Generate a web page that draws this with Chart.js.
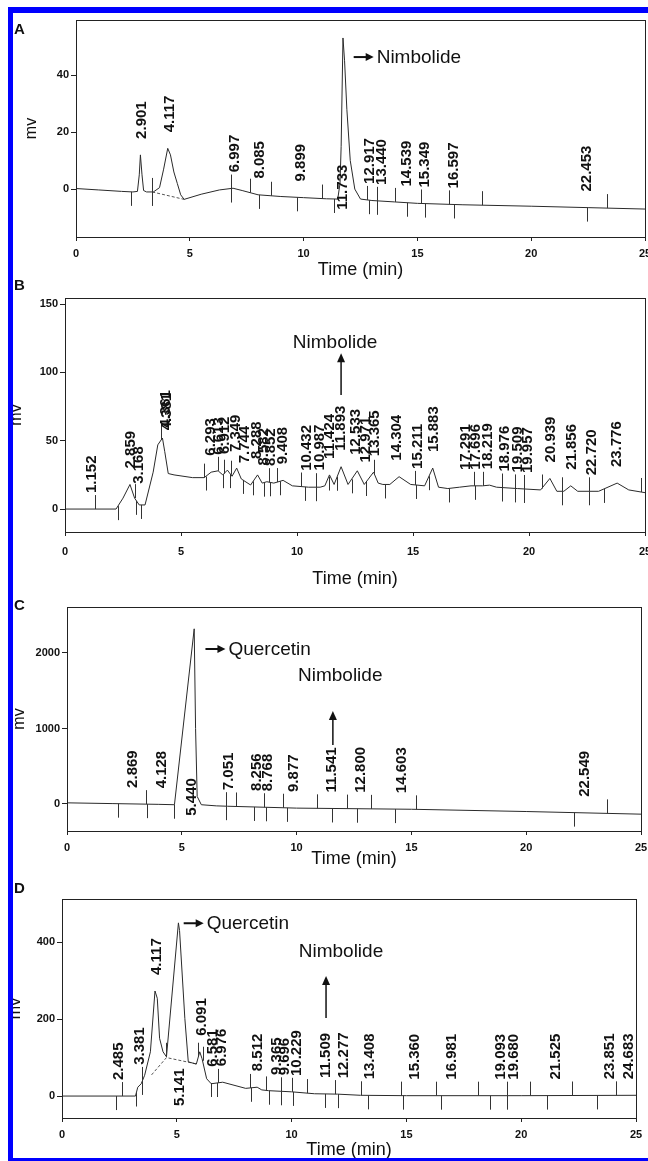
<!DOCTYPE html>
<html>
<head>
<meta charset="utf-8">
<script src="https://cdn.jsdelivr.net/npm/chart.js@4"></script>
<style>
  body { margin: 0; width: 648px; height: 1161px; position: relative; overflow: hidden; background: #fff; font-family: "Liberation Sans", Arial, sans-serif; }
  canvas { position: absolute; left: 0; }
  .bar { position: absolute; background: #0000ff; z-index: 5; }
  .letter { position: absolute; left: 14px; font-weight: bold; font-size: 15px; color: #111; z-index: 4; }
</style>
</head>
<body>
<div class="bar" style="left:8px;top:7px;width:640px;height:6px"></div>
<div class="bar" style="left:8px;top:7px;width:5px;height:1154px"></div>
<div class="bar" style="left:8px;top:1158px;width:640px;height:3px"></div>
<div class="letter" style="top:20px">A</div>
<div class="letter" style="top:276px">B</div>
<div class="letter" style="top:596px">C</div>
<div class="letter" style="top:879px">D</div>
<canvas id="chartA" width="648" height="276" style="top:14px"></canvas>
<canvas id="chartB" width="648" height="300" style="top:290px"></canvas>
<canvas id="chartC" width="648" height="280" style="top:590px"></canvas>
<canvas id="chartD" width="648" height="291" style="top:870px"></canvas>
<script>
const FONT = '"Liberation Sans", Arial, sans-serif';
const xTicks = [0, 5, 10, 15, 20, 25];

// painel A - extrato
const timeA = [0, 1, 2, 2.5, 2.7, 2.78, 2.83, 2.9, 2.97, 3.1, 3.4, 3.67, 3.85, 4.03, 4.15, 4.3, 4.45, 4.6, 4.75, 5.5, 6.3, 6.9, 7.3, 8, 9, 10, 11, 11.5, 11.6, 11.65, 11.73, 11.8, 11.9, 12.05, 12.25, 12.5, 13, 14, 15, 17, 20, 22.5, 25];
const mvA = [0.2, -0.3, -0.8, -1, -0.8, 5, 12, 5, -0.5, -1, -1, 0.5, 7, 14.3, 12, 6, 2, -2, -3.6, -1.8, -0.3, 0.3, -0.5, -2, -2.6, -3, -3.4, -3.5, 2, 15, 53, 45, 28, 10, 0, -3.5, -4, -4.5, -5, -5.5, -6, -6.5, -7];
const baseTimeA = [3.35, 4.75];
const baseMvA = [-1, -3.6];
const peaksA = ['2.901', '4.117', '6.997', '8.085', '9.899', '11.733', '12.917', '13.440', '14.539', '15.349', '16.597', '22.453'];
const belowA = ['11.733'];
const upA = [3.34, 6.79, 7.66, 8.57, 10.8, 12.8, 13.24, 14.0, 15.14, 16.41, 17.86, 23.33];
const downA = [2.43, 3.34, 6.79, 8.06, 9.71, 11.35, 12.89, 13.24, 14.56, 15.34, 16.59, 22.46];
const ticksA = [0, 20, 40];

// painel B
const timeB = [0, 2.2, 2.5, 2.8, 3.0, 3.2, 3.45, 3.8, 4.0, 4.2, 4.3, 4.45, 4.7, 5.5, 6.0, 6.3, 6.6, 6.8, 7.0, 7.2, 7.4, 7.6, 8.0, 8.3, 8.5, 8.7, 9.0, 9.4, 9.8, 10.5, 11.0, 11.2, 11.4, 11.6, 11.9, 12.2, 12.6, 12.9, 13.3, 13.5, 13.7, 14.0, 14.4, 14.9, 15.5, 15.85, 16.1, 16.5, 17.0, 17.5, 18.0, 18.3, 18.6, 19.5, 20.0, 20.5, 20.9, 21.2, 21.5, 21.8, 22.1, 23.0, 23.8, 24.3, 25];
const mvB = [0, 0, 8, 18, 8, 3, 3, 27, 47, 52, 42, 26, 25, 23, 23, 27, 28, 25, 28.5, 24, 30, 22, 17.6, 25, 19, 20, 19, 21, 17, 16, 16, 17, 25, 18, 31, 18, 28, 18, 27, 19, 18, 18, 23.7, 18, 17, 30, 16, 15, 16, 17, 17, 17.5, 16, 15, 14.5, 14, 22.4, 13, 13, 17, 13, 13, 19, 14, 12];
const peaksB = ['1.152', '2.859', '3.168', '4.361', '4.381', '6.293', '6.613', '6.912', '7.349', '7.744', '8.288', '8.582', '8.852', '9.408', '10.432', '10.987', '11.424', '11.893', '12.533', '12.971', '13.365', '14.304', '15.211', '15.883', '17.291', '17.696', '18.219', '18.976', '19.509', '19.957', '20.939', '21.856', '22.720', '23.776'];
const upB = [1.3, 3.0, 4.15, 6.0, 6.6, 6.85, 7.15, 8.8, 9.15, 10.16, 10.8, 13.33, 15.1, 17.63, 18.0, 18.82, 19.4, 19.8, 20.55, 21.44, 22.6, 24.83];
const downB = [2.28, 3.08, 3.26, 6.06, 6.83, 7.13, 7.66, 8.11, 8.56, 8.82, 9.27, 10.34, 10.84, 11.37, 11.73, 12.35, 12.98, 13.81, 15.12, 15.69, 16.54, 17.66, 18.82, 19.4, 19.8, 21.44, 22.6, 23.23];
const ticksB = [0, 50, 100, 150];

// painel C
const timeC = [0, 2, 4, 4.68, 5.54, 5.6, 5.67, 5.85, 6.5, 7, 10, 15, 20, 25];
const mvC = [15, 5, -5, -10, 2320, 1000, 100, -10, -25, -30, -55, -70, -100, -135];
const peaksC = ['2.869', '4.128', '5.440', '7.051', '8.256', '8.768', '9.877', '11.541', '12.800', '14.603', '22.549'];
const belowC = ['5.440'];
const upC = [3.45, 6.92, 7.37, 8.6, 9.4, 10.9, 12.2, 13.25, 15.2, 23.5];
const downC = [2.2, 3.47, 4.68, 6.92, 8.13, 8.67, 9.59, 11.56, 12.64, 14.3, 22.1];
const ticksC = [0, 1000, 2000];

// painel D
const timeD = [0, 3.2, 3.3, 3.45, 3.6, 3.85, 4.05, 4.15, 4.25, 4.4, 4.55, 5.07, 5.12, 5.35, 5.5, 5.85, 6.0, 6.1, 6.3, 6.5, 7.0, 8.0, 8.5, 8.7, 9.0, 10, 11, 12, 13, 15, 20, 25];
const mvD = [0, 0, 23, 32, 54, 115, 273, 254, 150, 115, 102, 450, 430, 202, 89, 83, 115, 97, 45, 32, 36, 20, 23, 16, 14, 11, 6, 5, 2, 1, 1, 2];
const baseTimeD = [3.9, 4.55, 5.9];
const baseMvD = [55, 100, 83];
const peaksD = ['2.485', '3.381', '4.117', '5.141', '6.091', '6.581', '6.976', '8.512', '9.365', '9.696', '10.229', '11.509', '12.277', '13.408', '15.360', '16.981', '19.093', '19.680', '21.525', '23.851', '24.683'];
const belowD = ['5.141'];
const upD = [2.6, 3.5, 4.55, 5.94, 6.12, 6.78, 8.18, 8.9, 9.53, 10.0, 10.65, 11.87, 13.04, 14.78, 16.31, 18.13, 19.37, 20.38, 22.21, 24.15];
const downD = [2.34, 3.24, 3.5, 6.47, 6.74, 8.24, 9.03, 9.53, 10.04, 11.47, 12.01, 13.31, 14.84, 16.49, 18.62, 19.37, 21.13, 23.29];
const ticksD = [0, 200, 400];

// valor do traço num tempo qualquer (interpolação só para posicionar rótulos)
function valorEm(ts, vs, t) {
  if (t <= ts[0]) return vs[0];
  for (let i = 1; i < ts.length; i++) {
    if (t <= ts[i]) {
      const f = (t - ts[i - 1]) / (ts[i] - ts[i - 1]);
      return vs[i - 1] + f * (vs[i] - vs[i - 1]);
    }
  }
  return vs[vs.length - 1];
}
function maxEntre(ts, vs, a, b) {
  let m = Math.max(valorEm(ts, vs, a), valorEm(ts, vs, b));
  ts.forEach((t, i) => { if (t >= a && t <= b) m = Math.max(m, vs[i]); });
  return m;
}
function minEntre(ts, vs, a, b) {
  let m = Math.min(valorEm(ts, vs, a), valorEm(ts, vs, b));
  ts.forEach((t, i) => { if (t >= a && t <= b) m = Math.min(m, vs[i]); });
  return m;
}

function setaDireita(ctx, x, y, texto) {
  ctx.beginPath(); ctx.moveTo(x, y); ctx.lineTo(x + 13, y); ctx.lineWidth = 2; ctx.stroke();
  ctx.beginPath(); ctx.moveTo(x + 20, y); ctx.lineTo(x + 12, y - 4); ctx.lineTo(x + 12, y + 4); ctx.closePath(); ctx.fill();
  ctx.font = '19px ' + FONT; ctx.textAlign = 'left'; ctx.textBaseline = 'middle';
  ctx.fillText(texto, x + 23, y + 1);
}
function setaCima(ctx, x, y0, y1) {
  ctx.beginPath(); ctx.moveTo(x, y0); ctx.lineTo(x, y1 + 8); ctx.lineWidth = 1.5; ctx.stroke();
  ctx.beginPath(); ctx.moveTo(x, y1); ctx.lineTo(x - 4, y1 + 9); ctx.lineTo(x + 4, y1 + 9); ctx.closePath(); ctx.fill();
}

function pluginPicos(p) {
  return {
    id: 'picos' + p.nome,
    afterDatasetsDraw(chart) {
      const { ctx, chartArea: a, scales: { x, y } } = chart;
      ctx.save();
      ctx.strokeStyle = '#222'; ctx.fillStyle = '#111'; ctx.lineWidth = 1;
      // moldura
      ctx.strokeRect(a.left + 0.5, a.top + 0.5, a.right - a.left, a.bottom - a.top);
      // marcas de integração
      ctx.strokeStyle = '#333';
      p.up.forEach(t => {
        const px = Math.round(x.getPixelForValue(t)) + 0.5;
        const py = y.getPixelForValue(valorEm(p.time, p.mv, t));
        ctx.beginPath(); ctx.moveTo(px, py); ctx.lineTo(px, py - 14); ctx.stroke();
      });
      p.down.forEach(t => {
        const px = Math.round(x.getPixelForValue(t)) + 0.5;
        const py = y.getPixelForValue(valorEm(p.time, p.mv, t));
        ctx.beginPath(); ctx.moveTo(px, py); ctx.lineTo(px, py + 14); ctx.stroke();
      });
      // rótulos dos picos
      ctx.font = 'bold 15px ' + FONT;
      ctx.textAlign = 'left'; ctx.textBaseline = 'middle';
      p.picos.forEach(lbl => {
        const t = parseFloat(lbl);
        const px = x.getPixelForValue(t);
        let py;
        if (p.abaixo.includes(lbl)) {
          py = y.getPixelForValue(Math.min(0, minEntre(p.time, p.mv, t - 1, t + 1))) + 10;
        } else {
          py = y.getPixelForValue(maxEntre(p.time, p.mv, t - 0.12, t + 0.12)) - 16;
        }
        ctx.save(); ctx.translate(px, py); ctx.rotate(-Math.PI / 2);
        ctx.fillText(lbl, 0, 0);
        ctx.restore();
      });
      // compostos
      ctx.strokeStyle = '#111';
      p.notas.forEach(n => {
        if (n.tipo === 'direita') {
          setaDireita(ctx, x.getPixelForValue(n.t), y.getPixelForValue(n.v), n.texto);
        } else {
          setaCima(ctx, x.getPixelForValue(n.t), y.getPixelForValue(n.v0), y.getPixelForValue(n.v1));
          ctx.font = '19px ' + FONT; ctx.textAlign = 'center'; ctx.textBaseline = 'middle';
          ctx.fillText(n.texto, x.getPixelForValue(n.tt), y.getPixelForValue(n.tv));
        }
      });
      ctx.restore();
    }
  };
}

function criaGrafico(id, p) {
  const datasets = [{
    data: p.time.map((t, i) => ({ x: t, y: p.mv[i] })),
    borderColor: '#2a2a2a', borderWidth: 1, pointRadius: 0, tension: 0
  }];
  if (p.baseTime) {
    datasets.push({
      data: p.baseTime.map((t, i) => ({ x: t, y: p.baseMv[i] })),
      borderColor: '#555', borderWidth: 1, borderDash: [3, 2], pointRadius: 0, tension: 0
    });
  }
  const eixo = { color: '#222', width: 1 };
  return new Chart(document.getElementById(id), {
    type: 'line',
    data: { datasets },
    options: {
      responsive: false,
      animation: false,
      layout: { padding: { left: p.padLeft, top: p.padTop, right: p.padRight, bottom: 0 } },
      plugins: { legend: { display: false }, tooltip: { enabled: false } },
      scales: {
        x: {
          type: 'linear', min: 0, max: 25,
          afterBuildTicks: s => { s.ticks = xTicks.map(v => ({ value: v })); },
          // o "25" fica cortado na borda, como no original
          afterFit: s => { s.height = p.xHeight; s.paddingLeft = 0; s.paddingRight = 0; },
          grid: { drawOnChartArea: false, tickLength: 4, color: '#222' },
          border: eixo,
          ticks: { font: { size: 11, weight: 'bold', family: FONT }, color: '#111', padding: p.xTickPad, maxRotation: 0, autoSkip: false, callback: v => String(v) },
          title: { display: true, text: 'Time (min)', font: { size: 18, family: FONT }, color: '#111', padding: { top: 0, bottom: p.titlePad } }
        },
        y: {
          type: 'linear', min: p.yMin, max: p.yMax,
          afterBuildTicks: s => { s.ticks = p.yTicks.map(v => ({ value: v })); },
          afterFit: s => { s.width = p.left - p.padLeft; s.paddingTop = 0; s.paddingBottom = 0; },
          grid: { drawOnChartArea: false, tickLength: 5, color: '#222' },
          border: eixo,
          ticks: { font: { size: 11, weight: 'bold', family: FONT }, color: '#111', padding: 2, callback: v => String(v) },
          title: { display: true, text: 'mv', font: { size: 16, family: FONT }, color: '#111' }
        }
      }
    },
    plugins: [pluginPicos(p)]
  });
}

criaGrafico('chartA', {
  nome: 'A', time: timeA, mv: mvA, baseTime: baseTimeA, baseMv: baseMvA,
  picos: peaksA, abaixo: belowA, up: upA, down: downA, yTicks: ticksA,
  yMin: -16.8, yMax: 59.3, padTop: 6, padLeft: 18, left: 76, padRight: 3, xHeight: 53, xTickPad: 6, titlePad: 9,
  notas: [{ tipo: 'direita', texto: 'Nimbolide', t: 12.2, v: 46.3 }]
});
criaGrafico('chartB', {
  nome: 'B', time: timeB, mv: mvB,
  picos: peaksB, abaixo: [], up: upB, down: downB, yTicks: ticksB,
  yMin: -16.8, yMax: 154.5, padTop: 8, padLeft: 3, left: 65, padRight: 3, xHeight: 58, xTickPad: 9, titlePad: 0,
  notas: [{ tipo: 'cima', texto: 'Nimbolide', t: 11.9, v0: 83.5, v1: 114, tt: 11.64, tv: 121.5 }]
});
criaGrafico('chartC', {
  nome: 'C', time: timeC, mv: mvC,
  picos: peaksC, abaixo: belowC, up: upC, down: downC, yTicks: ticksC,
  yMin: -358, yMax: 2609, padTop: 17, padLeft: 6, left: 67, padRight: 7, xHeight: 39, xTickPad: 6, titlePad: 0,
  notas: [
    { tipo: 'direita', texto: 'Quercetin', t: 6.03, v: 2053 },
    { tipo: 'cima', texto: 'Nimbolide', t: 11.58, v0: 781, v1: 1232, tt: 11.9, tv: 1695 }
  ]
});
criaGrafico('chartD', {
  nome: 'D', time: timeD, mv: mvD, baseTime: baseTimeD, baseMv: baseMvD,
  picos: peaksD, abaixo: belowD, up: upD, down: downD, yTicks: ticksD,
  yMin: -57, yMax: 512, padTop: 29, padLeft: 2, left: 62, padRight: 12, xHeight: 43, xTickPad: 6, titlePad: 0,
  notas: [
    { tipo: 'direita', texto: 'Quercetin', t: 5.3, v: 449 },
    { tipo: 'cima', texto: 'Nimbolide', t: 11.5, v0: 203, v1: 312, tt: 12.15, tv: 374 }
  ]
});
</script>
</body>
</html>
